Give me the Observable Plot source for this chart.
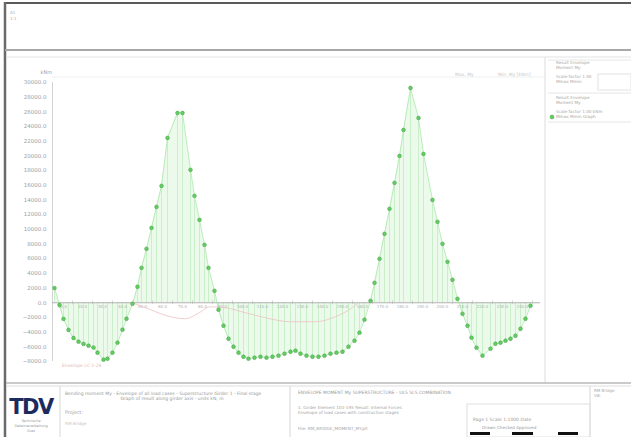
<!DOCTYPE html>
<html><head><meta charset="utf-8">
<script src="https://cdn.jsdelivr.net/npm/d3@7"></script>
<script src="https://cdn.jsdelivr.net/npm/@observablehq/plot@0.6"></script>
<style>
body{margin:0;background:#fff;}
#page{position:relative;width:631px;height:437px;overflow:hidden;font-family:"DejaVu Sans",sans-serif;}
#chart{position:absolute;left:6px;top:56px;}
#overlay{position:absolute;left:0;top:0;}
</style></head>
<body>
<div id="page"><div id="chart"></div><svg id="overlay" width="631" height="437"></svg></div>
<script>
// station (m) and bending moment envelope (kNm)
const stations = [1,3.5,5.5,8,10.5,13,15.5,18,20.5,22.5,25.5,27.5,30,32.5,35,37,40,42.5,44.5,47,49.5,52,54.5,57.5,62.5,65,69,71,73.5,76,78,81,83,85.5,88,90.5,93,95.5,98,101,104,107,110,113,116,119,121.5,124,127,130,133,136,139,142,145,148,151,153.5,156,159,161,163.5,166,168.5,171,173.5,175.5,179,183,185.5,190,192.5,195,197.5,200,202.5,205,207.5,209.5,212,215,219,221.5,224,226.5,229,231.5,234,236.5,239];
const moments = [2000,-300,-2200,-3700,-4800,-5300,-5600,-5850,-6100,-6800,-7750,-7620,-6800,-5440,-3670,-2180,-140,2180,4760,7350,10200,13060,15920,22450,25850,25850,18100,14560,11290,7890,4760,1630,-950,-3130,-4900,-5990,-6800,-7350,-7620,-7480,-7350,-7480,-7350,-7210,-6940,-6670,-6530,-6940,-7210,-7350,-7350,-7210,-6940,-6800,-6670,-5990,-5170,-4080,-2310,270,2720,5990,9390,12790,16330,20000,23540,29250,25170,20270,14010,11020,8030,5580,3130,540,-1500,-3130,-4760,-6120,-7210,-6260,-5580,-5440,-5170,-4900,-4490,-3540,-2180,-410];
// secondary (pink) result line
const pinkStations = [40,49,59,66.5,72.5,79,86.5,96.5,106.5,119,131.5,141.5,149,153];
const pinkMoments = [0,-950,-1900,-2180,-1500,-540,-680,-1360,-2040,-2590,-2590,-1900,-820,0];
const yTicks = [-8000,-6000,-4000,-2000,0,2000,4000,6000,8000,10000,12000,14000,16000,18000,20000,22000,24000,26000,28000,30000];
const xTicks = [10,20,30,40,50,60,70,80,90,100,110,120,130,140,150,160,170,180,190,200,210,220,230,240];
const unitLabel = "kNm";

const data = stations.map((s,i)=>({s, m: moments[i]}));
const pink = pinkStations.map((s,i)=>({s, m: pinkMoments[i]}));
const tickHalf = 250;

const chart = Plot.plot({
  width: 539, height: 326,
  marginLeft: 46, marginRight: 5, marginTop: 26, marginBottom: 21,
  style: {fontSize: "5.5px", color: "#9a9a9a", fontFamily: "DejaVu Sans", background: "transparent"},
  x: {domain: [0, 244], axis: null},
  y: {domain: [-8000, 30000], axis: null},
  marks: [
    Plot.areaY(data, {x: "s", y: "m", fill: "#ecfaec"}),
    Plot.ruleX(data, {x: "s", y1: 0, y2: "m", stroke: "#bdeabd", strokeWidth: 0.7}),
    Plot.ruleX([0], {stroke: "#c8c8c8", strokeWidth: 0.8}),
    Plot.ruleY([0], {stroke: "#b0b0b0", strokeWidth: 1}),
    Plot.ruleX(xTicks, {x: d=>d, y1: -tickHalf, y2: tickHalf, stroke: "#b8b8b8", strokeWidth: 0.6}),
    Plot.text(xTicks, {x: d=>d - 5, y: 0, text: d=>d3.format(".1f")(d), dy: 4, fontSize: 4, fill: "#b0b0b0"}),
    Plot.line(pink, {x: "s", y: "m", stroke: "#eec0c0", strokeWidth: 0.8, curve: "monotone-x"}),
    Plot.line(data, {x: "s", y: "m", stroke: "#a6e8a6", strokeWidth: 0.8}),
    Plot.dot(data, {x: "s", y: "m", r: 1.9, fill: "#5fd05f", stroke: "#4f9a4f", strokeWidth: 0.5}),
    Plot.axisY({ticks: yTicks, tickSize: 0, tickPadding: 6, tickFormat: d3.format(".1f"), fill: "#a0a0a0", label: null}),
    Plot.text([unitLabel], {frameAnchor: "top-left", dx: -12, dy: -12, fill: "#a0a0a0", fontSize: 5})
  ]
});
document.getElementById("chart").appendChild(chart);

// drawing frame and title block
const svg = d3.select("#overlay");
const L = (x1,y1,x2,y2,c,w)=>svg.append("line").attr("x1",x1).attr("y1",y1).attr("x2",x2).attr("y2",y2).attr("stroke",c).attr("stroke-width",w);
const T = (x,y,t,size,c,anchor,weight)=>svg.append("text").attr("x",x).attr("y",y).text(t).attr("font-size",size).attr("fill",c||"#9a9a9a").attr("text-anchor",anchor||"start").attr("font-weight",weight||"normal").attr("font-family","DejaVu Sans");
L(5,3,631,3,"#5a5a5a",2);
L(5,2,5,437,"#6a6a6a",2.5);
L(5,50,631,50,"#a8a8a8",2);
T(10,14,"A1",4,"#aaa"); T(10,20,"1:1",4,"#aaa");
L(6,57,631,57,"#e2e2e2",1);
L(52,77,545,77,"#efefef",1);
L(545,57,545,383,"#dcdcdc",1);
L(6,383,631,383,"#b8b8b8",1.5);
L(6,386,631,386,"#dedede",1);
// plot header labels
T(455,76,"Max. My",4.5,"#c8c8c8"); T(498,76,"Min. My [kNm]",4.5,"#c8c8c8");
T(62,367,"Envelope  LC 1-24",4.5,"#e0b8b8");
// legend panel
L(548,60,631,60,"#e6e6e6",1);
T(556,64,"Result Envelope",4.2,"#a8a8a8"); T(556,69,"Moment My",4.2,"#a8a8a8");
T(556,78,"Scale factor  1.00",4.2,"#a8a8a8"); T(556,83,"  Mmax    Mmin",4.2,"#a8a8a8");
svg.append("rect").attr("x",598).attr("y",74).attr("width",33).attr("height",16).attr("fill","none").attr("stroke","#e2e2e2");
L(548,93,631,93,"#e6e6e6",1);
T(556,99,"Result Envelope",4.2,"#a8a8a8"); T(556,104,"Moment My",4.2,"#a8a8a8");
T(556,113,"Scale factor  1.00  kNm",4.2,"#a8a8a8"); T(556,118,"  Mmax    Mmin  Graph",4.2,"#a8a8a8");
svg.append("circle").attr("cx",552).attr("cy",117).attr("r",2).attr("fill","#5fd05f").attr("stroke","#4f9a4f").attr("stroke-width",0.5);
L(548,122,631,122,"#e6e6e6",1);
// title block
L(60,386,60,437,"#d6d6d6",1);
L(290,386,290,437,"#d6d6d6",1);
L(590,386,590,437,"#d6d6d6",1);
T(31,414,"TDV",21,"#1c2b5e","middle","bold").attr("letter-spacing","-1.5");
T(31,422,"Technische",3.5,"#999","middle"); T(31,427,"Datenverarbeitung",3.5,"#999","middle"); T(31,432,"Graz",3.5,"#999","middle");
T(65,395,"Bending moment My - Envelope of all load cases - Superstructure Girder 1 - Final stage",4.5,"#9a9a9a");
T(172,400,"Graph of result along girder axis - units kN, m",4.5,"#9a9a9a","middle");
T(65,414,"Project:",4.8,"#a0a0a0");
T(65,425,"RM Bridge",4.2,"#c4c4c4");
T(298,394,"ENVELOPE MOMENT My SUPERSTRUCTURE - ULS  SLS COMBINATION",4.5,"#9a9a9a");
T(298,409,"1. Girder Element 101-195   Result: Internal Forces",4.2,"#a4a4a4");
T(298,414,"Envelope of load cases with construction stages",4.2,"#a4a4a4");
T(298,430,"File: RM_BRIDGE_MOMENT_MY.plt",4.2,"#a4a4a4");
svg.append("rect").attr("x",467).attr("y",404).attr("width",123).attr("height",33).attr("fill","none").attr("stroke","#e0e0e0");
T(473,421,"Page 1   Scale 1:1000   Date",4.5,"#9a9a9a");
T(482,429,"Drawn   Checked   Approved",4.2,"#9a9a9a");
svg.append("rect").attr("x",470).attr("y",432).attr("width",20).attr("height",3).attr("fill","#111");
svg.append("rect").attr("x",512).attr("y",432).attr("width",21).attr("height",3).attr("fill","#111");
svg.append("rect").attr("x",558).attr("y",432).attr("width",20).attr("height",3).attr("fill","#111");
T(594,392,"RM Bridge",4,"#a8a8a8"); T(594,397,"V8i",4,"#a8a8a8");
</script>
</body></html>
